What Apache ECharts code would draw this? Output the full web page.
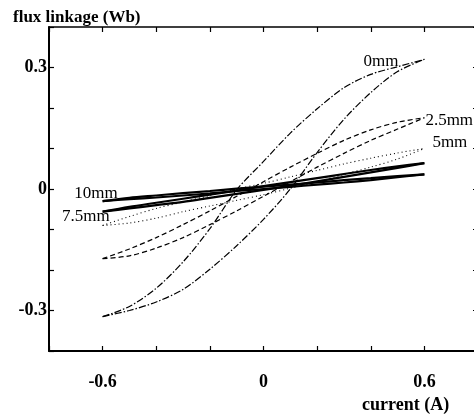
<!DOCTYPE html>
<html>
<head>
<meta charset="utf-8">
<script src="https://cdn.jsdelivr.net/npm/echarts@6/dist/echarts.min.js"></script>
<style>
html, body { margin: 0; padding: 0; background: #fff; }
#chart { width: 474px; height: 414px; }
</style>
</head>
<body>
<div id="chart"></div>
<script>
// current (A) sample points, shared by every branch
var current = [-0.6, -0.5, -0.4, -0.3, -0.2, -0.1, 0, 0.1, 0.2, 0.3, 0.4, 0.5, 0.6];

// flux linkage (Wb), rising branch (lower) and falling branch (upper) of each loop
var flux0mmRise   = [-0.315, -0.300, -0.279, -0.248, -0.198, -0.140, -0.075, 0.000, 0.090, 0.172, 0.238, 0.290, 0.320];
var flux0mmFall   = [-0.315, -0.290, -0.245, -0.180, -0.098, -0.002, 0.068, 0.138, 0.198, 0.250, 0.283, 0.302, 0.320];
var flux25mmRise  = [-0.172, -0.165, -0.146, -0.120, -0.088, -0.054, -0.018, 0.018, 0.054, 0.088, 0.120, 0.148, 0.176];
var flux25mmFall  = [-0.172, -0.148, -0.120, -0.088, -0.054, -0.018, 0.018, 0.054, 0.088, 0.120, 0.146, 0.165, 0.176];
var flux5mmRise   = [-0.090, -0.084, -0.072, -0.056, -0.042, -0.028, -0.014, 0.002, 0.018, 0.036, 0.054, 0.074, 0.100];
var flux5mmFall   = [-0.090, -0.068, -0.048, -0.032, -0.016, 0.000, 0.014, 0.030, 0.046, 0.062, 0.076, 0.089, 0.100];
var flux75mmRise  = [-0.056, -0.048, -0.040, -0.032, -0.022, -0.012, -0.002, 0.008, 0.019, 0.030, 0.041, 0.052, 0.064];
var flux75mmFall  = [-0.056, -0.044, -0.034, -0.024, -0.014, -0.004, 0.007, 0.017, 0.027, 0.037, 0.047, 0.056, 0.064];
var flux10mmRise  = [-0.030, -0.025, -0.021, -0.016, -0.011, -0.005, 0.000, 0.005, 0.011, 0.016, 0.022, 0.029, 0.036];
var flux10mmFall  = [-0.030, -0.022, -0.016, -0.010, -0.005, 0.001, 0.006, 0.011, 0.016, 0.022, 0.027, 0.032, 0.036];

var loopNames = ['0mm', '2.5mm', '5mm', '7.5mm', '10mm'];
var xTickLabels = ['-0.6', '0', '0.6'];
var yTickLabels = ['0.3', '0', '-0.3'];

var serif = 'Liberation Serif';

function pairs(ys) {
    return current.map(function (x, i) { return [x, ys[i]]; });
}

// put the curve name on one tip point of a branch
function branch(name, ys, lineStyle, tipIndex, labelOpt) {
    var data = pairs(ys);
    if (tipIndex !== null) {
        data[tipIndex] = {
            value: data[tipIndex],
            label: Object.assign({
                show: true,
                formatter: name,
                color: '#000',
                fontFamily: serif,
                fontSize: 17
            }, labelOpt)
        };
    }
    return {
        name: name,
        type: 'line',
        data: data,
        smooth: 0.3,
        showSymbol: true,
        showAllSymbol: true,
        symbol: 'circle',
        symbolSize: 0,
        silent: true,
        animation: false,
        itemStyle: { color: '#000' },
        lineStyle: lineStyle,
        z: lineStyle.width > 1.5 ? 3 : 2
    };
}

var dashDot = { color: '#000', width: 1.2, type: [7, 2, 1.5, 2] };
var dashed = { color: '#000', width: 1.2, type: [5, 3] };
var dotted = { color: '#000', width: 1.1, type: [1, 3] };
var thick = { color: '#000', width: 2.2, type: 'solid' };

var last = current.length - 1;

var series = [
    branch(loopNames[0], flux0mmRise, dashDot, last, { position: 'left', distance: 26, offset: [0, 2] }),
    branch(loopNames[0], flux0mmFall, dashDot, null),
    branch(loopNames[1], flux25mmRise, dashed, last, { position: 'right', distance: 1, offset: [0, 3] }),
    branch(loopNames[1], flux25mmFall, dashed, null),
    branch(loopNames[2], flux5mmRise, dotted, last, { position: 'right', distance: 8, offset: [0, -6] }),
    branch(loopNames[2], flux5mmFall, dotted, null),
    branch(loopNames[3], flux75mmRise, thick, 0, { position: 'left', distance: 0, offset: [7, 5] }),
    branch(loopNames[3], flux75mmFall, thick, null),
    branch(loopNames[4], flux10mmRise, thick, 0, { position: 'left', distance: 0, offset: [15, -8] }),
    branch(loopNames[4], flux10mmFall, thick, null)
];

function pick(labels) {
    return function (v) {
        for (var i = 0; i < labels.length; i++) {
            if (Math.abs(parseFloat(labels[i]) - v) < 1e-6) return labels[i];
        }
        return '';
    };
}

function frameAxis(pos, min, max, interval, width, labels, margin) {
    return {
        type: 'value', position: pos, min: min, max: max, interval: interval,
        axisLine: { onZero: false, lineStyle: { color: '#000', width: width } },
        axisTick: { inside: true, length: 5, lineStyle: { color: '#000', width: 1.2 } },
        axisLabel: labels ? { formatter: pick(labels), margin: margin, color: '#000',
                              fontFamily: serif, fontSize: 18, fontWeight: 'bold' } : { show: false },
        splitLine: { show: false }
    };
}

var chart = echarts.init(document.getElementById('chart'), null, { renderer: 'canvas' });
chart.setOption({
    animation: false,
    backgroundColor: '#fff',
    title: [
        { text: 'flux linkage (Wb)', left: 13, top: 9, padding: 0,
          textStyle: { fontFamily: serif, fontSize: 17, fontWeight: 'bold', color: '#000' } },
        { text: 'current (A)', left: 362, top: 396, padding: 0,
          textStyle: { fontFamily: serif, fontSize: 18, fontWeight: 'bold', color: '#000' } }
    ],
    grid: { left: 49, top: 27, width: 429, height: 324, outerBoundsMode: 'none', containLabel: false },
    xAxis: [
        frameAxis('bottom', -0.8, 0.8, 0.2, 2, xTickLabels, 22),
        frameAxis('top', -0.8, 0.8, 0.2, 1.5, null)
    ],
    yAxis: [
        frameAxis('left', -0.4, 0.4, 0.1, 2, yTickLabels, 2),
        frameAxis('right', -0.4, 0.4, 0.1, 1.5, null)
    ],
    series: series
});
</script>
</body>
</html>
